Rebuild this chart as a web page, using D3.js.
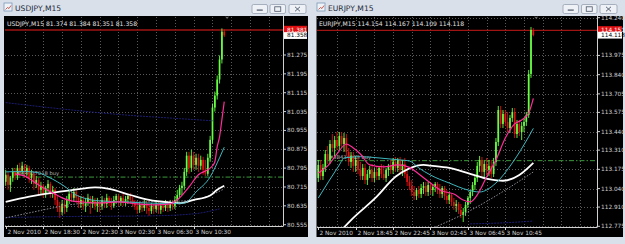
<!DOCTYPE html>
<html>
<head>
<meta charset="utf-8">
<script src="https://cdn.jsdelivr.net/npm/d3@7"></script>
<style>
  body { margin: 0; background: #d9e0ea; }
  svg text { font-family: "DejaVu Sans", sans-serif; }
</style>
</head>
<body>
<svg id="chart" width="625" height="244"></svg>
<script>
const W = 625, H = 244;

// ---------- USDJPY, M15 ----------
const usdjpyTimeLabels = ['2 Nov 2010', '2 Nov 18:30', '2 Nov 22:30', '3 Nov 02:30', '3 Nov 06:30', '3 Nov 10:30'];
const usdjpyTimeIdx = [0, 16, 32, 48, 64, 80];
const usdjpyPriceTicks = [81.275, 81.195, 81.115, 81.035, 80.955, 80.875, 80.795, 80.715, 80.635, 80.555];
// open, high, low, close
const usdjpyBars = [
  [80.737,80.788,80.720,80.767],[80.767,80.779,80.703,80.724],[80.724,80.762,80.694,80.754],[80.754,80.796,80.737,80.779],
  [80.779,80.796,80.745,80.762],[80.762,80.809,80.745,80.796],[80.796,80.818,80.762,80.779],[80.779,80.822,80.767,80.805],
  [80.805,80.813,80.754,80.779],[80.779,80.809,80.762,80.796],[80.796,80.805,80.733,80.754],[80.754,80.788,80.728,80.771],
  [80.771,80.779,80.703,80.728],[80.728,80.762,80.711,80.745],[80.745,80.754,80.681,80.703],[80.703,80.737,80.686,80.720],
  [80.720,80.728,80.669,80.686],[80.686,80.720,80.669,80.711],[80.711,80.745,80.694,80.728],[80.728,80.737,80.669,80.686],
  [80.686,80.720,80.669,80.703],[80.703,80.711,80.639,80.660],[80.660,80.677,80.609,80.635],[80.635,80.652,80.584,80.609],
  [80.609,80.660,80.596,80.643],[80.643,80.660,80.601,80.626],[80.626,80.677,80.609,80.660],[80.660,80.703,80.643,80.686],
  [80.686,80.703,80.652,80.669],[80.669,80.711,80.652,80.694],[80.694,80.703,80.647,80.669],[80.669,80.681,80.626,80.643],
  [80.643,80.677,80.626,80.660],[80.660,80.677,80.618,80.635],[80.635,80.669,80.609,80.652],[80.652,80.686,80.635,80.669],
  [80.669,80.677,80.601,80.643],[80.643,80.677,80.626,80.660],[80.660,80.669,80.618,80.635],[80.635,80.669,80.609,80.652],
  [80.652,80.660,80.609,80.635],[80.635,80.677,80.618,80.660],[80.660,80.669,80.626,80.643],[80.643,80.686,80.626,80.669],
  [80.669,80.677,80.635,80.652],[80.652,80.669,80.618,80.635],[80.635,80.677,80.626,80.660],[80.660,80.686,80.643,80.677],
  [80.677,80.686,80.635,80.652],[80.652,80.677,80.635,80.669],[80.669,80.686,80.635,80.647],[80.647,80.677,80.635,80.664],
  [80.664,80.686,80.643,80.677],[80.677,80.690,80.643,80.660],[80.660,80.673,80.631,80.647],[80.647,80.660,80.618,80.635],
  [80.635,80.652,80.601,80.618],[80.618,80.652,80.605,80.639],[80.639,80.652,80.609,80.626],[80.626,80.660,80.613,80.643],
  [80.643,80.656,80.601,80.626],[80.626,80.643,80.592,80.613],[80.613,80.647,80.601,80.635],[80.635,80.643,80.601,80.622],
  [80.622,80.656,80.609,80.639],[80.639,80.652,80.601,80.618],[80.618,80.647,80.601,80.635],[80.635,80.647,80.609,80.626],
  [80.626,80.660,80.613,80.643],[80.643,80.656,80.609,80.626],[80.626,80.660,80.613,80.647],[80.647,80.660,80.618,80.635],
  [80.635,80.677,80.622,80.660],[80.660,80.703,80.647,80.681],[80.681,80.724,80.669,80.711],[80.711,80.737,80.681,80.720],
  [80.720,80.796,80.703,80.779],[80.779,80.864,80.762,80.848],[80.848,80.864,80.771,80.796],[80.796,80.873,80.779,80.848],
  [80.848,80.864,80.788,80.809],[80.809,80.856,80.788,80.839],[80.839,80.856,80.779,80.805],[80.805,80.848,80.788,80.830],
  [80.830,80.843,80.767,80.788],[80.788,80.830,80.762,80.771],[80.771,80.856,80.762,80.839],[80.839,80.932,80.822,80.915],
  [80.915,81.069,80.899,81.052],[81.052,81.120,81.035,81.103],[81.103,81.188,81.086,81.171],[81.171,81.273,81.154,81.256],
  [81.256,81.388,81.239,81.374],[81.374,81.384,81.351,81.358]
];
// moving averages: [bar index, price]
const usdjpyPink = [[4,80.771],[8,80.762],[12,80.737],[16,80.711],[20,80.690],[24,80.669],[28,80.656],[32,80.652],[40,80.647],
  [48,80.652],[56,80.643],[64,80.639],[70,80.643],[74,80.669],[78,80.715],[82,80.767],[86,80.788],[88,80.805],[89,80.822],
  [90,80.886],[91,80.928],[92,81.001],[93,81.077]];
const usdjpyCyan = [[0,80.779],[8,80.781],[14,80.775],[18,80.758],[22,80.737],[26,80.711],[29,80.686],[33,80.669],[40,80.656],
  [50,80.652],[60,80.647],[70,80.645],[76,80.647],[81,80.694],[87,80.758],[91,80.839],[93,80.884]];
const usdjpyWhite = [[0,80.652],[10,80.674],[23,80.695],[32,80.707],[38,80.713],[44,80.707],[53,80.681],[61,80.660],
  [70,80.649],[74,80.646],[80,80.660],[87,80.679],[90,80.703],[93,80.720]];
const usdjpyGrey = [[0,80.584],[10,80.605],[20,80.626],[30,80.643],[45,80.650],[60,80.652],[76,80.656],[84,80.669],[93,80.707]];
const usdjpyNavyHigh = [[0,81.073],[23,81.047],[49,81.022],[74,81.005],[88,80.996]];
const usdjpyNavyLow = [[0,80.586],[30,80.590],[60,80.592],[80,80.601],[91,80.622]];
const usdjpyQuote = { ask: 81.381, bid: 81.358 };
const usdjpyOrder = { price: 80.757, label: '#44437018 buy' };

// ---------- EURJPY, M15 ----------
const eurjpyTimeLabels = ['2 Nov 2010', '2 Nov 18:45', '2 Nov 22:45', '3 Nov 02:45', '3 Nov 06:45', '3 Nov 10:45'];
const eurjpyTimeIdx = [0, 16, 32, 48, 64, 80];
const eurjpyPriceTicks = [114.240, 113.975, 113.840, 113.705, 113.575, 113.440, 113.310, 113.175, 113.040, 112.910, 112.775];
const eurjpyBars = [
  [113.114,113.241,113.086,113.206],[113.206,113.241,113.100,113.128],[113.128,113.213,113.100,113.185],[113.185,113.311,113.157,113.283],
  [113.283,113.339,113.213,113.241],[113.241,113.381,113.213,113.353],[113.353,113.423,113.297,113.325],[113.325,113.409,113.269,113.381],
  [113.381,113.437,113.311,113.339],[113.339,113.437,113.311,113.409],[113.409,113.437,113.325,113.353],[113.353,113.430,113.297,113.395],
  [113.395,113.423,113.269,113.297],[113.297,113.325,113.199,113.227],[113.227,113.297,113.185,113.269],[113.269,113.297,113.157,113.199],
  [113.199,113.269,113.157,113.241],[113.241,113.269,113.142,113.171],[113.171,113.227,113.100,113.128],[113.128,113.213,113.100,113.185],
  [113.185,113.213,113.072,113.100],[113.100,113.171,113.065,113.142],[113.142,113.199,113.114,113.171],[113.171,113.213,113.086,113.114],
  [113.114,113.185,113.086,113.157],[113.157,113.199,113.100,113.128],[113.128,113.199,113.100,113.185],[113.185,113.213,113.114,113.142],
  [113.142,113.206,113.100,113.114],[113.114,113.185,113.086,113.171],[113.171,113.213,113.128,113.199],[113.199,113.241,113.142,113.171],
  [113.171,113.255,113.142,113.227],[113.227,113.262,113.157,113.185],[113.185,113.255,113.157,113.241],[113.241,113.262,113.142,113.171],
  [113.171,113.241,113.128,113.213],[113.213,113.255,113.114,113.142],[113.142,113.171,113.058,113.086],[113.086,113.128,113.030,113.058],
  [113.058,113.100,112.988,113.016],[113.016,113.058,112.960,112.988],[112.988,113.044,112.960,113.030],[113.030,113.058,112.974,113.002],
  [113.002,113.072,112.974,113.044],[113.044,113.086,113.002,113.058],[113.058,113.086,112.988,113.016],[113.016,113.086,112.988,113.065],
  [113.065,113.086,113.002,113.030],[113.030,113.072,112.988,113.051],[113.051,113.086,113.016,113.072],[113.072,113.086,113.002,113.030],
  [113.030,113.072,112.974,113.002],[113.002,113.058,112.974,113.044],[113.044,113.058,112.960,112.988],[112.988,113.030,112.932,112.960],
  [112.960,113.016,112.932,112.995],[112.995,113.002,112.918,112.946],[112.946,112.974,112.890,112.918],[112.918,112.960,112.876,112.932],
  [112.932,112.946,112.862,112.890],[112.890,112.932,112.834,112.855],[112.855,112.904,112.805,112.876],[112.876,112.946,112.848,112.925],
  [112.925,112.988,112.904,112.974],[112.974,113.030,112.932,113.016],[113.016,113.086,112.988,113.065],[113.065,113.128,113.030,113.114],
  [113.114,113.227,113.086,113.199],[113.199,113.269,113.157,113.241],[113.241,113.262,113.128,113.157],[113.157,113.241,113.121,113.213],
  [113.213,113.255,113.135,113.171],[113.171,113.241,113.128,113.199],[113.199,113.241,113.114,113.142],[113.142,113.255,113.121,113.227],
  [113.227,113.395,113.199,113.367],[113.367,113.620,113.339,113.592],[113.592,113.620,113.465,113.494],[113.494,113.592,113.465,113.564],
  [113.564,113.592,113.480,113.508],[113.508,113.578,113.437,113.465],[113.465,113.557,113.430,113.536],[113.536,113.606,113.508,113.578],
  [113.578,113.606,113.395,113.423],[113.423,113.522,113.395,113.494],[113.494,113.522,113.409,113.437],[113.437,113.508,113.381,113.480],
  [113.480,113.536,113.437,113.508],[113.508,113.578,113.480,113.557],[113.557,113.873,113.536,113.845],[113.845,114.175,113.817,114.154],
  [114.154,114.167,114.109,114.118]
];
const eurjpyPink = [[0,113.149],[4,113.199],[8,113.283],[12,113.353],[15,113.325],[18,113.283],[22,113.206],[28,113.192],[34,113.206],
  [39,113.189],[43,113.142],[48,113.079],[53,113.023],[58,113.002],[62,112.960],[65,112.946],[68,112.995],[72,113.121],
  [76,113.241],[80,113.395],[84,113.494],[87,113.522],[90,113.571],[92,113.674]];
const eurjpyCyan = [[0,112.974],[9,113.206],[11,113.255],[18,113.264],[26,113.255],[35,113.241],[39,113.234],[43,113.185],
  [48,113.135],[56,113.079],[64,113.030],[69,113.016],[76,113.079],[83,113.220],[90,113.404],[92,113.463]];
const eurjpyWhite = [[10,112.750],[14,112.819],[25,112.983],[33,113.123],[39,113.182],[45,113.206],[48,113.201],[56,113.185],
  [64,113.149],[73,113.107],[79,113.095],[86,113.135],[92,113.220]];
const eurjpyGrey = [[50,112.770],[62,112.860],[72,112.950],[82,113.050],[92,113.157]];
const eurjpyNavy = [[65,112.792],[80,112.800],[92,112.812]];
const eurjpyQuote = { ask: 114.151, bid: 114.118 };
const eurjpyOrder = { price: 113.236, label: '#38434013 buy' };

const panels = [
  {
    id: 'usd', title: 'USDJPY,M15', frame: [0, 312], black: [4, 308],
    plot: { left: 5, right: 283, top: 17, bottom: 226 },
    x: d3.scaleLinear().domain([0, 16]).range([5.7, 43.3]),
    y: d3.scaleLinear().domain([80.555, 81.275]).range([224.7, 55]),
    bars: usdjpyBars, ticks: usdjpyPriceTicks, timeLabels: usdjpyTimeLabels, timeIdx: usdjpyTimeIdx,
    lines: [
      { d: usdjpyNavyHigh, c: '#1c1c70', w: 1, dash: '2,1' },
      { d: usdjpyNavyLow, c: '#1c1c70', w: 1, dash: '2,1' },
      { d: usdjpyGrey, c: '#8c8c96', w: 1, dash: '1.5,1.5' },
      { d: usdjpyWhite, c: '#ffffff', w: 1.8 },
      { d: usdjpyCyan, c: '#3fb8c0', w: 1 },
      { d: usdjpyPink, c: '#ff2d9a', w: 1.2 }
    ],
    quote: usdjpyQuote, order: usdjpyOrder, btn: [252, 270, 289]
  },
  {
    id: 'eur', title: 'EURJPY,M15', frame: [313, 625], black: [316.5, 623],
    plot: { left: 317, right: 597, top: 17, bottom: 227 },
    x: d3.scaleLinear().domain([0, 16]).range([318.3, 355.7]),
    y: d3.scaleLinear().domain([112.775, 114.240]).range([226.3, 17.7]),
    bars: eurjpyBars, ticks: eurjpyPriceTicks, timeLabels: eurjpyTimeLabels, timeIdx: eurjpyTimeIdx,
    lines: [
      { d: eurjpyNavy, c: '#1c1c70', w: 1, dash: '2,1' },
      { d: eurjpyGrey, c: '#8c8c96', w: 1, dash: '1.5,1.5' },
      { d: eurjpyWhite, c: '#ffffff', w: 1.8 },
      { d: eurjpyCyan, c: '#3fb8c0', w: 1 },
      { d: eurjpyPink, c: '#ff2d9a', w: 1.2 }
    ],
    quote: eurjpyQuote, order: eurjpyOrder, btn: [563, 581.5, 600]
  }
];

const svg = d3.select('#chart');
const fmt = d3.format('.3f');

panels.forEach(drawPanel);

function drawPanel(p) {
  const g = svg.append('g');
  const { plot, x, y } = p;

  // window frame + title bar
  g.append('rect').attr('x', p.frame[0]).attr('y', 0).attr('width', p.frame[1] - p.frame[0]).attr('height', H)
    .attr('fill', '#d9e0ea');
  g.append('rect').attr('x', p.frame[0] + 4).attr('y', 3).attr('width', 8).attr('height', 8)
    .attr('fill', '#eef3f8').attr('stroke', '#7d97b8').attr('stroke-width', 0.8);
  g.append('path').attr('d', `M${p.frame[0] + 5.5},9.5 l2,-2 l1.5,1 l2,-3`).attr('fill', 'none')
    .attr('stroke', '#c0392b').attr('stroke-width', 0.8);
  g.append('text').attr('x', p.frame[0] + 15).attr('y', 11).attr('font-size', 7.6)
    .attr('font-family', 'Liberation Sans, sans-serif').attr('fill', '#1f2a38').text(p.title);

  // window buttons
  p.btn.forEach((bx, k) => {
    const bw = k === 2 ? 17 : 15.5;
    g.append('rect').attr('x', bx).attr('y', 4.5).attr('width', bw).attr('height', 9).attr('rx', 1.5)
      .attr('fill', '#eef2f7').attr('stroke', '#8996a8').attr('stroke-width', 0.7);
    const cx = bx + bw / 2;
    if (k === 0) g.append('rect').attr('x', cx - 3).attr('y', 9.5).attr('width', 6).attr('height', 1.2).attr('fill', '#4a5566');
    if (k === 1) g.append('rect').attr('x', cx - 3).attr('y', 6.8).attr('width', 6).attr('height', 4.5)
      .attr('fill', 'none').attr('stroke', '#4a5566').attr('stroke-width', 0.8);
    if (k === 2) g.append('path').attr('d', `M${cx - 2.5},6.8 l5,4.5 M${cx + 2.5},6.8 l-5,4.5`)
      .attr('stroke', '#4a5566').attr('stroke-width', 0.9);
  });

  // black chart area
  g.append('rect').attr('x', p.black[0]).attr('y', 16).attr('width', p.black[1] - p.black[0]).attr('height', 221)
    .attr('fill', '#000000');

  const clipId = 'clip-' + p.id;
  svg.append('clipPath').attr('id', clipId).append('rect')
    .attr('x', plot.left).attr('y', plot.top).attr('width', plot.right - plot.left).attr('height', plot.bottom - plot.top);
  const inner = g.append('g').attr('clip-path', `url(#${clipId})`);

  // grid
  const vIdx = d3.range(8, 200, 8).filter(i => x(i) < plot.right - 1);
  inner.selectAll('.vg').data(vIdx).join('line')
    .attr('x1', d => Math.round(x(d)) + 0.5).attr('x2', d => Math.round(x(d)) + 0.5)
    .attr('y1', plot.top).attr('y2', plot.bottom)
    .attr('stroke', '#5a5a5a').attr('stroke-width', 1).attr('stroke-dasharray', '1,2');
  inner.selectAll('.hg').data(p.ticks).join('line')
    .attr('x1', plot.left).attr('x2', plot.right)
    .attr('y1', d => Math.round(y(d)) + 0.5).attr('y2', d => Math.round(y(d)) + 0.5)
    .attr('stroke', '#5a5a5a').attr('stroke-width', 1).attr('stroke-dasharray', '1,2');

  // order line and label
  inner.append('line').attr('x1', plot.left).attr('x2', plot.right)
    .attr('y1', y(p.order.price)).attr('y2', y(p.order.price))
    .attr('stroke', '#3c9a3c').attr('stroke-width', 1).attr('stroke-dasharray', '5,2,1.5,2');
  inner.append('text').attr('x', plot.left + 12).attr('y', y(p.order.price) - 2).attr('font-size', 5.2)
    .attr('fill', '#b4b4b4').text(p.order.label);

  // ask line
  inner.append('line').attr('x1', plot.left).attr('x2', plot.right)
    .attr('y1', y(p.quote.ask)).attr('y2', y(p.quote.ask))
    .attr('stroke', '#a01414').attr('stroke-width', 1.4);

  // candles
  const bw = 1.7;
  const cand = inner.append('g');
  cand.selectAll('.wick').data(p.bars).join('line')
    .attr('x1', (d, i) => x(i)).attr('x2', (d, i) => x(i))
    .attr('y1', d => y(d[1])).attr('y2', d => y(d[2]))
    .attr('stroke', d => d[3] >= d[0] ? '#66ff44' : '#dd1111').attr('stroke-width', 0.9);
  cand.selectAll('.body').data(p.bars).join('rect')
    .attr('x', (d, i) => x(i) - bw / 2).attr('width', bw)
    .attr('y', d => y(Math.max(d[0], d[3])))
    .attr('height', d => Math.max(0.8, Math.abs(y(d[0]) - y(d[3]))))
    .attr('fill', d => d[3] >= d[0] ? '#66ff44' : '#dd1111');

  // indicator lines
  const line = d3.line().x(d => x(d[0])).y(d => y(d[1])).curve(d3.curveMonotoneX);
  p.lines.forEach(l => {
    inner.append('path').attr('d', line(l.d)).attr('fill', 'none')
      .attr('stroke', l.c).attr('stroke-width', l.w).attr('stroke-dasharray', l.dash || null);
  });

  // axes
  g.append('line').attr('x1', plot.right + 0.5).attr('x2', plot.right + 0.5).attr('y1', 16).attr('y2', plot.bottom)
    .attr('stroke', '#d0d0d0').attr('stroke-width', 1);
  g.append('line').attr('x1', plot.left).attr('x2', plot.right + 0.5).attr('y1', plot.bottom + 0.5).attr('y2', plot.bottom + 0.5)
    .attr('stroke', '#d0d0d0').attr('stroke-width', 1);

  // price labels
  const pl = g.selectAll('.pl').data(p.ticks).join('g').attr('transform', d => `translate(${plot.right},${y(d)})`);
  pl.append('line').attr('x1', 1).attr('x2', 3).attr('stroke', '#d0d0d0').attr('stroke-width', 1);
  pl.append('text').attr('x', 4).attr('dy', '0.35em').attr('font-size', 5.8).attr('fill', '#d0d0d0').text(d => fmt(d));

  // time labels
  const tl = g.selectAll('.tl').data(p.timeIdx).join('g').attr('transform', d => `translate(${Math.round(x(d)) + 0.5},${plot.bottom})`);
  tl.append('line').attr('y1', 0).attr('y2', 3).attr('stroke', '#d0d0d0').attr('stroke-width', 1);
  tl.append('text').attr('x', 1).attr('y', 8).attr('font-size', 5.8).attr('fill', '#d0d0d0').text((d, i) => p.timeLabels[i]);

  // header text with last bar OHLC
  const last = p.bars[p.bars.length - 1];
  g.append('text').attr('x', plot.left + 2).attr('y', 26).attr('font-size', 6.1).attr('fill', '#e0e0e0')
    .text(`${p.title}  ${last.map(fmt).join(' ')}`);

  // shift marker
  g.append('path').attr('d', `M${x(p.bars.length) + 0.5},17 l-2,-0.5 l2,2.5 l2,-2.5 z`).attr('fill', '#6a6a6a');

  // ask / bid price boxes
  const boxW = p.black[1] - plot.right - 2;
  g.append('rect').attr('x', plot.right + 1).attr('y', y(p.quote.ask) - 4.2).attr('width', boxW).attr('height', 8.4)
    .attr('fill', '#e01010');
  g.append('text').attr('x', plot.right + 4).attr('y', y(p.quote.ask)).attr('dy', '0.35em').attr('font-size', 5.8)
    .attr('fill', '#ffffff').text(fmt(p.quote.ask));
  g.append('rect').attr('x', plot.right + 1).attr('y', y(p.quote.bid) - 3.3).attr('width', boxW).attr('height', 6.8)
    .attr('fill', '#ffffff');
  g.append('text').attr('x', plot.right + 4).attr('y', y(p.quote.bid)).attr('dy', '0.35em').attr('font-size', 5.8)
    .attr('fill', '#000000').text(fmt(p.quote.bid));
}
</script>
</body>
</html>
